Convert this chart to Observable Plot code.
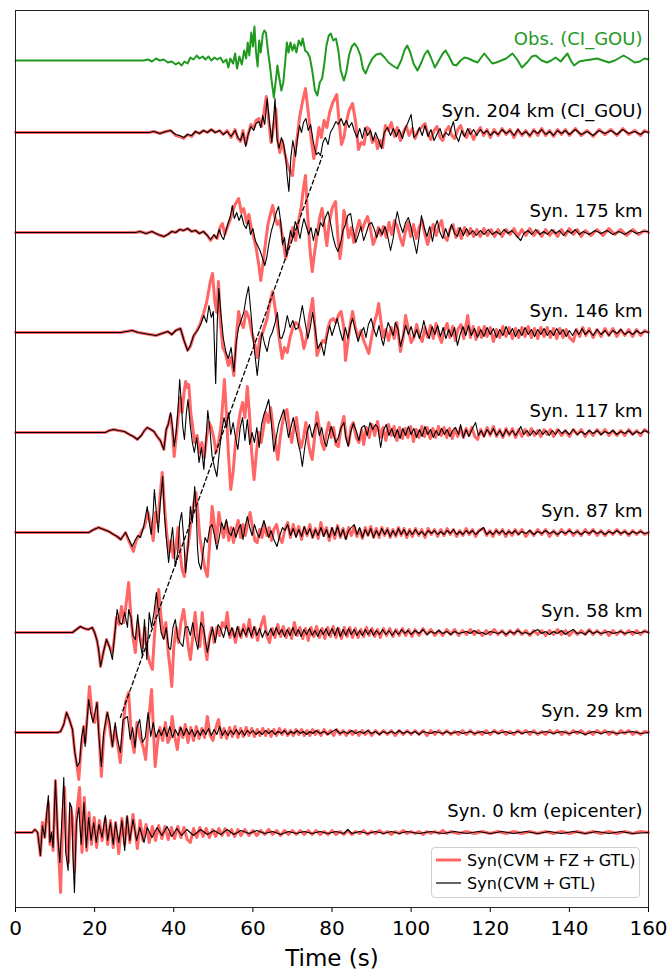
<!DOCTYPE html>
<html><head><meta charset="utf-8">
<script src="https://cdn.jsdelivr.net/npm/d3@7"></script>
<script src="https://cdn.jsdelivr.net/npm/@observablehq/plot@0.6"></script>
<style>
html,body{margin:0;padding:0;background:#fff;}
#chart{position:relative;width:671px;height:975px;font-family:"DejaVu Sans",sans-serif;}
#legend{position:absolute;left:431px;top:847px;width:207px;height:49px;border:1px solid #cfcfcf;border-radius:4px;background:rgba(255,255,255,0.85);font-size:16px;color:#000;}
#legend .row{position:absolute;left:4px;display:flex;align-items:center;white-space:nowrap;}
#legend .sw{width:25px;margin-right:6px;}
</style></head><body><div id="chart"><div id="legend"></div></div>
<script>
// ---- data (time in s, amplitude in units where 100 = trace spacing) ----
const xTicks = [0, 20, 40, 60, 80, 100, 120, 140, 160];
const traceLabels = ["Syn. 0 km (epicenter)", "Syn. 29 km", "Syn. 58 km", "Syn. 87 km", "Syn. 117 km", "Syn. 146 km", "Syn. 175 km", "Syn. 204 km (CI_GOU)"];
const traceOffsets = [0, 1, 2, 3, 4, 5, 6, 7];
const obsLabel = "Obs. (CI_GOU)";
const obsOffset = 7.72;
const dashTime = [26.5, 77.6];
const dashLevel = [1.15, 6.77];
const legendLabels = ["Syn(CVM\u2009+\u2009FZ\u2009+\u2009GTL)", "Syn(CVM\u2009+\u2009GTL)"];

const obs = [[0,0],[32.4,0],[33.5,1],[34.5,-1],[35.5,2],[36.5,0],[37.5,1],[38.5,-2],[39.5,-1],[40.5,-4],[41.2,-2],[42,-5],[42.7,-1],[43.5,-3],[44.2,3],[45,1],[45.8,5],[46.5,2],[47.3,4],[48,1],[48.8,4],[49.5,0],[50.3,3],[51,1],[51.8,3],[52.5,-2],[53.3,1],[53.8,-7],[54.3,2],[55,-3],[55.5,7],[56,-8],[56.6,4],[57.2,-4],[57.8,10],[58.3,2],[58.7,18],[59.1,5],[59.6,28],[60,14],[60.4,34],[60.8,8],[61.2,-6],[61.6,20],[62,8],[62.5,26],[62.9,30],[63.3,28],[63.8,10],[64.3,-5],[64.8,-22],[65.3,-37],[65.8,-20],[66.2,-5],[66.7,-18],[67.2,-30],[67.7,-22],[68.2,0],[68.6,18],[69,8],[69.5,18],[70,10],[70.5,16],[71,8],[71.6,20],[72.2,15],[72.6,22],[73.2,10],[73.8,8],[74.4,3],[75,-10],[75.7,-30],[76.3,-35],[76.9,-22],[77.5,-18],[78,-5],[78.6,15],[79.2,25],[79.7,27],[80.3,20],[81,22],[81.6,10],[82.2,-10],[83,-20],[83.6,-12],[84.3,5],[85,14],[85.7,17],[86.4,13],[87.2,5],[87.8,-8],[88.5,-13],[89.3,-5],[90.2,2],[91.2,6],[92.3,7],[93.3,3],[94.3,-2],[95.3,-5],[96.5,-8],[97.5,0],[98.3,10],[99,15],[99.8,8],[100.6,-3],[101.6,-10],[102.6,-2],[103.4,6],[104.2,10],[105,3],[106,-7],[107,0],[108,7],[108.7,10],[109.6,4],[110.6,-4],[111.4,-5],[112.5,0],[113.5,3],[114.5,2],[115.5,0],[116.8,-2],[117.7,3],[118.5,7],[119.5,2],[120.5,-3],[121.5,-2],[122.8,0],[124,2],[125.6,7],[126.8,1],[128,-7],[129.3,-2],[130.5,4],[131.5,5],[133,0],[134.3,-2],[135.4,0],[136.5,3],[137.8,-1],[139.5,7],[140.5,-1],[141.2,-5],[142.5,-1],[143.8,0],[145.5,1],[147,2],[148.5,0],[150,-2],[151.5,0],[153.7,5],[155,2],[156.5,-2],[157.8,-1],[159,2],[160,1]];

const blk204 = [[0,0],[33.7,0],[35,1],[36.5,-1],[38,1],[39.2,2],[40.5,-2],[41.5,-3],[42.5,-5],[43.5,-2],[44.5,-3],[45.5,1],[46.5,-1],[47.5,2],[48.5,0],[49.5,3],[50.5,0],[51.6,2],[52.5,-2],[53.5,1],[54.5,-4],[55.5,2],[56.2,-5],[56.9,-8],[57.5,0],[58.2,-14],[58.8,-2],[59.5,6],[60.2,2],[60.8,9],[61.5,11],[62,5],[62.5,17],[63,8],[63.6,34],[64.2,10],[64.8,-10],[65.2,12],[65.6,34],[66.1,-6],[66.6,-16],[67.2,-5],[67.8,-12],[68.3,-25],[68.7,-45],[69.1,-59],[69.6,-25],[70.1,-8],[70.8,-24],[71.3,-5],[71.8,7],[72.3,0],[72.8,10],[73.4,14],[74,2],[74.6,8],[75.3,-10],[76,-22],[76.6,-20],[77.1,-23],[77.7,-10],[78.3,-5],[79,-12],[79.6,0],[80.3,5],[81,11],[81.6,8],[82.3,14],[83,7],[83.6,12],[84.3,5],[85,10],[85.6,2],[86.3,-5],[87,4],[87.7,-6],[88.3,5],[89,-3],[89.7,2],[90.4,-8],[91,0],[91.7,-7],[92.5,-16],[93.2,0],[94,5],[94.8,-3],[95.5,4],[96.3,-4],[97,3],[97.8,-6],[98.5,4],[99.2,10],[100,18],[100.7,-5],[101.4,-2],[102.1,5],[102.8,-3],[103.5,7],[104.3,-4],[105,3],[105.8,-8],[106.5,-2],[107.3,4],[108,-5],[108.8,0],[109.5,-3],[110.2,5],[110.7,11],[111.3,-3],[112,-9],[112.8,2],[113.5,-4],[114.3,4],[115,-2],[115.8,3],[116.6,-3],[117.5,3],[118.3,-1],[119.2,2],[120,-3],[121,1],[122,-2],[123,3],[124,-1],[125,2],[126,-3],[127,3],[128,-2],[129,1],[130,-3],[131,2],[132,-1],[133,3],[134,-2],[135,1],[136,-3],[137,2],[138,-1],[139,2],[140,-2],[141.5,3],[143,-2],[144.5,1],[146,-3],[147.5,2],[149,-1],[150.5,2],[152,-2],[153.5,3],[155,-1],[156.5,1],[158,-2],[159,1],[160,0]];
const red204 = [[0,0],[33.7,0],[35,1],[36.5,-1],[38,1],[39.2,2],[40.5,-3],[41.5,-4],[42.5,-6],[43.5,-2],[44.5,-4],[45.5,1],[46.5,-1],[47.5,2],[48.5,0],[49.5,3],[50.5,0],[51.6,2],[52.5,-2],[53.5,2],[54.5,-5],[55.5,3],[56.2,-6],[56.9,-9],[57.5,2],[58.2,-12],[58.8,-2],[59.5,8],[60.2,4],[60.8,12],[61.5,14],[62.2,6],[62.8,20],[63.4,36],[64,12],[64.6,-10],[65.2,5],[65.8,24],[66.3,-8],[66.8,-20],[67.4,-8],[68,-20],[68.6,-30],[69.3,-38],[70,-43],[70.6,-20],[71.2,-5],[71.8,15],[72.5,30],[73.3,44],[74,20],[74.7,-5],[75.4,-26],[76,-15],[76.7,5],[77.3,-5],[78,12],[78.7,5],[79.4,20],[80.2,30],[81.2,38],[81.8,10],[82.4,-12],[83,-5],[83.6,10],[84.3,22],[85.2,29],[86,10],[86.7,-17],[87.4,-10],[88.1,-12],[88.8,5],[89.5,3],[90.2,-10],[91,-5],[91.5,-16],[92.2,-8],[92.8,-15],[93.5,7],[94.3,2],[95,10],[95.8,-4],[96.5,5],[97.3,-8],[98,0],[98.8,6],[99.5,-3],[100.3,4],[101,-6],[101.8,2],[102.6,5],[103.5,9],[104.3,-2],[105,-7],[105.8,2],[106.5,6],[107.3,-5],[108,-8],[108.8,2],[109.5,6],[110.3,-3],[111,-6],[111.8,3],[112.5,7],[113.3,-2],[114,-5],[114.8,3],[115.8,-7],[116.6,0],[117.5,5],[118.3,-3],[119.2,3],[120,-5],[121,3],[122,-3],[123,4],[124,-2],[125,3],[126,-5],[127,3],[128,-3],[129,2],[130,-4],[131,3],[132,-3],[133,4],[134,-3],[135,2],[136,-4],[137,3],[138,-2],[139,3],[140,-3],[141.5,4],[143,-3],[144.5,2],[146,-4],[147.5,3],[149,-2],[150.5,3],[152,-3],[153.5,4],[155,-2],[156.5,2],[158,-3],[159,2],[160,0]];

const blk175 = [[0,0],[30.3,0],[31.5,1],[33,-1],[34.5,1],[36,-2],[37.5,-4],[38.5,-2],[39.5,1],[40.5,0],[41.5,3],[42.5,2],[43.5,4],[44.5,1],[45.5,2],[46.5,-1],[47.5,1],[48.5,-3],[49.3,-7],[50.2,-2],[50.8,-6],[51.5,3],[52.1,-4],[52.6,-7],[53.2,2],[53.8,10],[54.3,16],[54.8,27],[55.3,14],[55.9,20],[56.5,12],[57.1,18],[57.7,8],[58.3,4],[58.9,12],[59.4,-2],[60,4],[60.6,-8],[61.2,-13],[61.8,-18],[62.4,-25],[63,-33],[63.5,-25],[64.1,-10],[64.7,2],[65.3,10],[65.9,20],[66.5,26],[67,12],[67.5,-12],[68,-5],[68.5,-23],[69,-10],[69.5,2],[70.1,-6],[70.7,11],[71.3,5],[71.9,-6],[72.4,5],[72.9,14],[73.5,6],[74.1,-2],[74.7,5],[75.3,-8],[75.9,4],[76.5,-3],[77.1,10],[77.7,6],[78.3,15],[79,21],[79.6,10],[80.3,-5],[80.9,-14],[81.5,-19],[82.2,-10],[82.8,2],[83.4,8],[84,17],[84.7,19],[85.3,4],[86,-10],[86.6,-3],[87.3,6],[88,-8],[88.7,0],[89.3,8],[90,10],[90.7,3],[91.3,-5],[92,4],[92.7,-2],[93.4,6],[94.1,-4],[94.8,-18],[95.5,-5],[96,10],[96.5,21],[97.2,8],[97.9,0],[98.6,10],[99.3,15],[100,5],[100.7,-8],[101.4,-21],[102,-5],[102.6,17],[103.3,5],[104,-4],[104.7,6],[105.4,-9],[106,5],[106.6,12],[107.3,0],[108,-6],[108.7,4],[109.4,-4],[110.2,8],[111,-1],[111.7,-4],[112.4,5],[113.2,-3],[114,4],[114.8,-2],[115.6,2],[116.5,-3],[117.5,2],[118.5,-2],[119.5,3],[120.5,-2],[121.5,1],[122.5,-2],[123.5,3],[124.5,-1],[125.5,2],[126.5,-3],[127.7,-8],[128.5,-1],[129.5,2],[130.5,-2],[131.5,3],[132.5,-2],[133.5,1],[134.5,-2],[135.5,3],[136.5,-1],[137.5,2],[138.5,-3],[139.5,2],[140.5,-1],[141.5,3],[142.5,-2],[143.5,1],[145,-2],[146.5,2],[148,-1],[149.5,2],[151,-2],[152.5,1],[154,-2],[155.5,2],[157,-1],[158.5,1],[160,1]];
const red175 = [[0,0],[30.3,0],[31.5,1],[33,-1],[34.5,1],[36,-2],[37.5,-4],[38.5,-2],[39.5,1],[40.5,0],[41.5,3],[42.5,2],[43.5,4],[44.5,1],[45.5,2],[46.5,-1],[47.5,1],[48.5,-3],[49.3,-8],[50.2,-3],[51,-6],[51.7,5],[52.3,9],[52.9,-2],[53.5,5],[54.2,12],[54.8,20],[55.5,28],[56.4,34],[57.1,20],[57.7,24],[58.4,10],[59,18],[59.6,5],[60.2,-5],[60.8,-15],[61.4,-30],[62,-48],[62.6,-30],[63.2,-10],[63.8,8],[64.4,18],[65,27],[65.6,15],[66.2,8],[66.8,12],[67.5,-5],[68.3,-26],[68.9,-15],[69.5,-5],[70.1,5],[70.8,-8],[71.5,10],[72.2,25],[72.8,45],[73.3,57],[73.8,20],[74.4,-15],[75,-39],[75.6,-20],[76.3,0],[76.9,15],[77.5,24],[78.1,5],[78.7,-13],[79.3,10],[80.1,25],[80.9,31],[81.5,-5],[82,-26],[82.5,-10],[83,22],[83.6,12],[84.2,-5],[84.9,5],[85.5,-10],[86.2,2],[86.9,12],[87.6,2],[88.3,10],[89,16],[89.7,4],[90.4,-12],[91,-6],[91.7,5],[92.4,-3],[93,6],[93.7,-5],[94.4,10],[95.1,-2],[95.8,12],[96.5,6],[97.2,-5],[97.9,-13],[98.5,0],[99.2,10],[99.9,-4],[100.6,8],[101.3,-6],[102,5],[102.8,12],[103.5,-2],[104.2,-12],[104.9,0],[105.6,8],[106.3,-3],[107,6],[107.7,12],[108.4,-4],[109.1,-8],[109.8,3],[110.6,8],[111.3,-5],[112,4],[112.7,-6],[113.5,5],[114.3,-3],[115,4],[115.8,-4],[116.6,3],[117.5,-4],[118.4,4],[119.3,-3],[120.2,3],[121.1,-4],[122,3],[123,-4],[124,3],[125,-2],[126,4],[127,-4],[128,3],[129,-3],[130,4],[131,-3],[132,2],[133,-4],[134,3],[135,-3],[136,2],[137,-4],[138,3],[139,-3],[140,4],[141,-2],[142,3],[143,-4],[144,2],[145.5,-3],[147,3],[148.5,-3],[150,4],[151.5,-2],[153,3],[154.5,-3],[156,3],[157.5,-2],[159,2],[160,0]];

const blk146 = [[0,0],[26.5,0],[28,1],[29.5,2],[31,0],[32.5,-1],[34,-2],[35.5,-3],[37,-1],[38.5,1],[39.5,-2],[40.5,2],[41.7,4],[42.6,-8],[43.5,-18],[44.2,-13],[45,-3],[46,2],[46.8,8],[47.6,17],[48.3,10],[48.9,27],[49.5,15],[50,21],[50.6,-51],[51,10],[51.4,44],[51.9,20],[52.5,-5],[53.2,-20],[53.8,-26],[54.5,-15],[55.2,-39],[55.8,-10],[56.4,5],[57,12],[57.7,20],[58.3,35],[58.9,46],[59.5,20],[60.1,-8],[60.6,-25],[61.1,-43],[61.7,-20],[62.3,0],[63,-12],[63.6,-19],[64.3,-5],[64.9,0],[65.5,8],[66.2,20],[66.8,-5],[67.3,-6],[68,2],[68.7,17],[69.4,5],[70.1,12],[70.8,3],[71.5,5],[72.5,27],[73.2,10],[73.9,-6],[74.5,5],[75.1,20],[75.7,5],[76.4,-16],[77.2,-10],[78,-23],[78.7,-5],[79.4,7],[80,-3],[80.7,6],[81.3,14],[82,2],[82.7,-8],[83.4,5],[84,-6],[84.7,8],[85.2,14],[85.9,2],[86.6,-9],[87.3,0],[88,5],[88.6,-5],[89.2,8],[89.9,14],[90.6,3],[91.2,-4],[91.9,7],[92.5,-6],[93,-13],[93.6,0],[94.2,10],[94.8,4],[95.5,-3],[96,10],[96.7,3],[97.3,-14],[98,-3],[98.6,7],[99.3,-2],[100,6],[100.7,-5],[101.4,3],[102.1,-6],[102.8,4],[103.2,12],[103.9,0],[104.6,-6],[105.3,6],[106,-2],[106.7,7],[107.4,-4],[108.1,5],[108.8,-6],[109.5,3],[110.2,-4],[111,5],[111.7,-13],[112.4,-2],[113.1,6],[113.8,-3],[114.5,7],[115.2,-3],[116,4],[116.8,-5],[117.6,3],[118.4,-4],[119.2,5],[120,-2],[120.8,4],[121.6,-5],[122.4,3],[123.2,-3],[124,6],[124.8,-2],[125.6,4],[126.4,-4],[127.2,3],[128,-3],[128.8,5],[129.6,-2],[130.4,3],[131.2,-4],[132,3],[132.8,-2],[133.6,4],[134.4,-3],[135.2,2],[136,-3],[136.8,4],[137.6,-2],[138.4,3],[139.2,-4],[140,2],[140.8,-3],[141.6,3],[142.4,-2],[143.2,4],[144,-2],[145,2],[146,-3],[147,3],[148,-2],[149,2],[150,-3],[151,2],[152,-1],[153,3],[154,-2],[155,1],[156,-2],[157,2],[158,-1],[159,1],[160,0]];
const red146 = [[0,0],[26.5,0],[28,1],[29.5,2],[31,0],[32.5,-1],[34,-2],[35.5,-3],[37,-1],[38.5,1],[39.5,-2],[40.5,2],[41.7,4],[42.6,-8],[43.5,-18],[44.2,-14],[45,-4],[46,3],[46.8,10],[47.6,20],[48.3,30],[49.2,50],[49.8,59],[50.4,30],[50.9,20],[51.3,51],[51.8,10],[52.4,-15],[53,-20],[53.8,-33],[54.5,-25],[55.2,-43],[55.9,0],[56.4,21],[57,10],[57.6,5],[58.3,21],[59,15],[59.7,0],[60.4,-10],[61.1,-25],[61.8,-5],[62.5,0],[63.6,14],[64.3,30],[65,41],[65.6,25],[66.2,8],[66.8,-10],[67.4,-26],[68,-15],[68.7,-20],[69.4,-5],[70.1,5],[70.8,10],[71.5,8],[72.2,0],[72.9,-16],[73.6,-5],[74.3,15],[75.1,34],[75.6,10],[76.2,-23],[76.9,-15],[77.6,-8],[78.3,-10],[79,5],[79.6,12],[80.3,14],[81,10],[81.7,18],[82.3,21],[83,5],[83.4,-28],[84,-10],[84.6,8],[85.2,21],[85.9,5],[86.6,-5],[87.3,2],[88,-8],[88.7,-15],[89.3,-21],[90,-5],[90.7,10],[91.3,18],[91.8,29],[92.4,10],[93,-5],[93.6,3],[94.3,-8],[95,5],[95.7,-6],[96.4,10],[97.3,-19],[98,-5],[98.6,17],[99.3,3],[100,-10],[100.7,-5],[101.4,8],[102.1,-3],[102.8,-9],[103.5,5],[104.2,-5],[104.9,7],[105.6,-6],[106.3,9],[107,-3],[107.7,-10],[108.4,2],[109.1,9],[109.8,-5],[110.5,6],[111.2,-8],[111.9,4],[112.6,8],[113.3,-6],[114.3,17],[115,-5],[115.7,6],[116.4,-7],[117.1,5],[117.8,-5],[118.5,6],[119.2,-4],[120,5],[120.8,-9],[121.6,3],[122.4,-5],[123.2,6],[124,-4],[124.8,5],[125.6,-6],[126.4,4],[127.2,-5],[128,5],[128.8,-4],[129.6,6],[130.4,-5],[131.2,4],[132,-6],[132.8,5],[133.6,-4],[134.4,5],[135.2,-5],[136,4],[136.8,-6],[137.6,4],[138.4,-5],[139.2,3],[140,-5],[141,-9],[141.8,3],[142.6,-4],[143.4,5],[144.2,-3],[145,4],[146,-5],[147,3],[148,-4],[149,4],[150,-3],[151,4],[152,-4],[153,3],[154,-3],[155,3],[156,-4],[157,3],[158,-3],[159,2],[160,0]];

const blk117 = [[0,0],[22.7,0],[23.7,2],[24.8,3],[26,2],[27.5,1],[28.8,-2],[29.8,-4],[30.8,-7],[31.8,-3],[32.6,2],[33.3,5],[34.2,3],[35,1],[35.8,-4],[36.6,-8],[37.5,-17],[38.1,3],[38.6,8],[39.2,20],[39.7,5],[40.1,-14],[40.6,0],[41.1,25],[41.5,53],[41.9,30],[42.3,5],[42.7,-7],[43.2,20],[43.6,33],[44.1,10],[44.7,-10],[45.2,-20],[45.8,-5],[46.4,-30],[47,-15],[47.6,-37],[48.1,-10],[48.6,22],[49.1,5],[49.7,-24],[50.3,-35],[50.9,-44],[51.5,-20],[52.1,0],[52.7,15],[53.3,5],[53.9,20],[54.4,-2],[55,10],[55.6,-5],[56.2,-17],[56.8,5],[57.4,15],[58,-8],[58.6,13],[59.2,-12],[59.8,0],[60.4,-10],[61,5],[61.6,-15],[62.2,8],[62.8,18],[63.4,25],[64,33],[64.6,12],[65.3,-19],[65.9,-5],[66.5,8],[67.1,15],[67.8,23],[68.4,10],[69,-5],[69.6,5],[70.2,15],[70.8,3],[71.4,-10],[72,-20],[72.5,-34],[73.1,-15],[73.7,0],[74.3,8],[75,-5],[75.6,5],[76.2,10],[76.8,-3],[77.4,5],[78,-8],[78.6,-14],[79.2,-3],[79.8,6],[80.4,-2],[81,-10],[81.6,-5],[82.3,5],[83,10],[83.5,-5],[84.1,-14],[84.7,0],[85.4,9],[86.1,2],[86.8,-8],[87.5,5],[88.2,7],[88.9,-3],[89.6,10],[90.3,3],[91,8],[91.6,5],[92.3,-15],[93,2],[93.7,8],[94.4,-3],[95.1,4],[95.8,-5],[96.5,3],[97.2,-6],[97.9,4],[98.6,-3],[99.3,6],[100,-2],[100.7,4],[101.4,-5],[102.1,3],[102.8,-4],[103.5,6],[104.2,-2],[104.9,3],[105.6,-5],[106.3,2],[107,-3],[107.7,4],[108.4,-2],[109.1,3],[109.8,-4],[110.5,2],[111.2,5],[112,-2],[112.5,8],[113.2,-5],[113.9,3],[114.6,-4],[115.5,4],[116.3,10],[117,-3],[117.7,2],[118.4,-4],[119.2,3],[120,-2],[120.8,4],[121.6,-3],[122.4,2],[123.2,-4],[124,3],[124.8,-2],[125.6,2],[126.4,-3],[127.2,2],[127.7,6],[128.5,-2],[129.3,2],[130.1,-3],[130.9,2],[131.7,-2],[132.5,3],[133.3,-2],[134.1,2],[134.9,-3],[135.7,2],[136.5,-2],[137.3,3],[138.1,-1],[139,2],[140,-2],[141,3],[142,-2],[143,1],[144,-2],[145,2],[146,-1],[147,2],[148,-2],[149,1],[150,-1],[151,2],[152,-2],[153,1],[154,-1],[155,2],[156,-2],[157,1],[158,-1],[159,2],[160,0]];
const red117 = [[0,0],[22.7,0],[23.7,2],[24.8,3],[26,2],[27.5,1],[28.8,-2],[29.8,-4],[30.8,-7],[31.8,-3],[32.6,2],[33.3,5],[34.2,3],[35,1],[35.8,-4],[36.6,-8],[37.5,-17],[38.1,3],[38.6,8],[39.2,18],[39.7,0],[40.1,-24],[40.6,-5],[41.1,15],[41.6,35],[42.1,20],[42.6,40],[43,51],[43.4,45],[43.8,48],[44.3,20],[44.8,5],[45.3,-10],[45.9,-3],[46.5,-20],[47.1,-10],[47.7,-25],[48.3,-5],[48.9,10],[49.5,5],[50.1,-5],[50.7,-20],[51.3,-10],[51.9,5],[52.4,30],[52.8,53],[53.3,20],[53.8,-20],[54.4,-57],[55,-40],[55.6,-10],[56.2,5],[56.8,20],[57.4,30],[58,15],[58.6,46],[59.2,15],[59.7,-20],[60.3,-47],[60.9,-20],[61.5,0],[62.1,-10],[62.7,5],[63.3,20],[63.9,10],[64.5,25],[65.1,5],[65.7,-10],[66.3,-27],[66.9,-5],[67.5,10],[68.1,20],[68.6,23],[69.2,5],[69.8,-10],[70.4,5],[71,15],[71.6,-5],[72.2,-15],[72.8,-5],[73.4,10],[74,-10],[74.5,-20],[75,-27],[75.6,-5],[76.2,20],[76.8,5],[77.4,-10],[78,-17],[78.6,0],[79.2,10],[79.8,-5],[80.4,5],[81,-12],[81.6,-14],[82.3,5],[83,16],[83.6,-5],[84.2,-12],[84.8,5],[85.4,10],[86.1,-5],[86.8,-10],[87.5,3],[88,-12],[88.7,5],[89.4,-5],[90.1,8],[90.8,-3],[91.5,11],[92.2,-5],[92.9,5],[93.6,-8],[94.3,8],[95,-3],[95.7,6],[96.4,-8],[97.1,5],[97.8,-6],[98.5,4],[99.2,-5],[99.9,6],[100.6,-9],[101.3,3],[102,-5],[102.7,6],[103.4,-4],[104.1,5],[104.8,-6],[105.5,4],[106.2,-5],[106.9,6],[107.6,-3],[108.3,5],[109,-5],[109.7,4],[110.4,-6],[111.1,4],[111.8,-4],[112.5,5],[113.2,-5],[113.9,4],[114.6,-3],[115.3,5],[116.1,-4],[116.8,-7],[117.6,3],[118.4,-4],[119.2,5],[120,-3],[120.8,6],[121.6,-4],[122.4,3],[123.2,-5],[124,4],[124.8,-3],[125.6,4],[126.4,-5],[127.2,3],[128,-4],[128.8,3],[129.6,-3],[130.4,4],[131.2,-3],[132,2],[132.8,-4],[133.6,3],[134.4,-2],[135.2,3],[136,-4],[137,3],[138,-3],[139,2],[140,-4],[141,3],[142,-2],[143,3],[144,-4],[145,2],[146,-3],[147,3],[148,-2],[149,3],[150,-3],[151,2],[152,-3],[153,2],[154,-3],[155,3],[156,-2],[157,2],[158,-3],[159,3],[160,0]];

const blk87 = [[0,0],[18.5,0],[19.8,3],[21,5],[22.3,3],[23.6,1],[24.8,-2],[25.7,-4],[26.6,-7],[27.8,0],[28.8,-8],[29.5,-14],[30.2,-8],[30.9,-3],[31.6,-5],[32.4,6],[33.3,26],[33.8,10],[34.3,-2],[34.8,20],[35.1,43],[35.6,20],[36.1,0],[36.6,30],[37.2,56],[37.6,20],[38.1,-5],[38.7,-30],[39.2,-10],[39.7,5],[40.4,-34],[41,-20],[41.5,10],[42,20],[42.5,-5],[43,-40],[43.6,-15],[44.2,26],[44.7,10],[45.3,46],[45.7,20],[46,-15],[46.3,-30],[46.9,-37],[47.4,-20],[47.9,-5],[48.5,-10],[49.1,5],[49.7,8],[50.3,-3],[50.9,-17],[51.5,-5],[52.1,10],[52.7,3],[53.3,13],[53.9,0],[54.5,-3],[55.1,5],[55.7,-5],[56.3,3],[56.9,8],[57.5,-7],[58,5],[58.6,16],[59.2,5],[59.8,-3],[60.4,8],[61,0],[61.6,-5],[62.2,4],[62.8,12],[63.4,3],[64,-5],[64.6,2],[65.3,-7],[66.1,-14],[66.8,-3],[67.5,5],[68.1,2],[68.8,8],[69.5,-3],[70.2,4],[70.9,-5],[71.6,3],[72.3,-4],[73,6],[73.7,-2],[74.4,4],[75.1,-5],[75.8,3],[76.5,-3],[77.2,5],[77.9,-4],[78.6,3],[79.3,-5],[80,5],[80.7,-3],[81.4,6],[82.1,-4],[82.8,3],[83.5,-7],[84.2,2],[84.9,5],[85.6,8],[86.3,-2],[87,5],[87.7,-5],[88.4,3],[89.1,-3],[89.8,4],[90.5,-5],[91.2,2],[91.9,-3],[92.6,4],[93.3,-2],[94,3],[94.7,-4],[95.4,2],[96.1,-3],[96.8,4],[97.5,-2],[98.2,3],[98.9,-3],[99.6,2],[100.3,-2],[101.1,3],[101.9,-2],[102.7,1],[103.5,-3],[104.3,2],[105.1,-1],[105.9,2],[106.7,-2],[107.5,1],[108.3,-2],[109.1,2],[109.9,-1],[110.7,3],[111.5,-2],[112.3,1],[113.1,-2],[113.9,2],[114.7,-1],[115.5,2],[116.3,-2],[117.1,1],[118.3,5],[119.1,-2],[119.9,1],[120.7,-2],[121.5,2],[122.3,-1],[123.1,2],[123.9,-2],[124.7,1],[125.5,-1],[126.3,2],[127.1,-2],[128,1],[129,-1],[130,2],[131,-2],[132,1],[133,-1],[134,2],[135,-1],[136,1],[137,-2],[138,1],[139,-1],[140,2],[141,-1],[142,1],[143,-2],[144,1],[145,-1],[146,2],[147,-1],[148,1],[149,-2],[150,1],[151,-1],[152,2],[153,-1],[154,1],[155,-2],[156,1],[157,-1],[158,1],[159,-1],[160,0]];
const red87 = [[0,0],[18.5,0],[19.8,3],[21,5],[22.3,3],[23.6,1],[24.8,-2],[25.7,-4],[26.6,-7],[27.8,0],[28.8,-10],[29.8,-19],[30.5,-8],[31.2,-4],[32,2],[32.6,6],[33.5,20],[34.1,10],[34.8,-8],[35.4,20],[36,10],[36.5,35],[37.1,60],[37.6,30],[38.2,0],[38.8,-20],[39.3,-8],[39.9,-25],[40.5,-15],[41.1,5],[41.6,-20],[42.1,-37],[42.7,-44],[43.3,-20],[43.9,-5],[44.5,15],[45,28],[45.6,40],[46.1,20],[46.6,-5],[47.2,-20],[47.8,-35],[48.5,-44],[49.1,-10],[49.7,26],[50.2,10],[50.8,-10],[51.4,20],[52,5],[52.6,-5],[53.3,10],[53.9,-8],[54.5,5],[55.1,-10],[55.7,3],[56.3,12],[56.9,-5],[57.5,8],[58.1,-3],[58.7,10],[59.3,20],[59.9,5],[60.5,-8],[61.1,-10],[61.7,3],[62.3,-5],[62.9,8],[63.5,-3],[64.1,5],[64.7,-8],[65.3,3],[66,8],[66.7,-5],[67.4,-10],[68.1,3],[68.8,10],[69.5,-5],[70.2,8],[70.9,-3],[71.6,6],[72.3,-7],[73,5],[73.7,-3],[74.4,8],[75.1,-5],[75.8,4],[76.5,-6],[77.2,10],[77.9,-3],[78.6,5],[79.3,-8],[80,4],[80.7,-6],[81.4,7],[82.1,-5],[82.8,4],[83.5,-6],[84.2,5],[84.9,-3],[85.6,6],[86.3,-4],[87,3],[87.7,-6],[88.4,5],[89.1,-3],[89.8,6],[90.5,-5],[91.2,4],[91.9,-5],[92.6,5],[93.3,-3],[94,4],[94.7,-5],[95.4,3],[96.1,-4],[96.8,5],[97.5,-3],[98.2,4],[98.9,-5],[99.6,3],[100.3,-4],[101.1,4],[101.9,-3],[102.7,3],[103.5,-5],[104.3,4],[105.1,-2],[105.9,3],[106.7,-4],[107.5,3],[108.3,-3],[109.1,4],[109.9,-2],[110.7,3],[111.5,-4],[112.3,2],[113.1,-3],[113.9,4],[114.7,-2],[115.5,3],[116.3,-4],[117.1,2],[118.3,4],[119.1,-3],[119.9,2],[120.7,-4],[121.5,3],[122.3,-2],[123.1,3],[123.9,-4],[124.7,2],[125.5,-3],[126.3,3],[127.1,-2],[128,3],[129,-4],[130,2],[131,-3],[132,3],[133,-2],[134,3],[135,-4],[136,2],[137,-3],[138,3],[139,-2],[140,3],[141,-3],[142,2],[143,-3],[144,3],[145,-2],[146,3],[147,-3],[148,2],[149,-3],[150,2],[151,-2],[152,3],[153,-2],[154,2],[155,-3],[156,2],[157,-2],[158,2],[159,-2],[160,0]];

const blk58 = [[0,0],[14.4,0],[15.4,3],[16.4,6],[17.4,4],[18.4,3],[19.4,5],[20,0],[20.6,-8],[21,-17],[21.5,-34],[22.2,-20],[23,-7],[23.7,-14],[24.5,-27],[25,-5],[25.7,23],[26.3,10],[26.9,8],[27.6,20],[28.3,5],[28.6,23],[29.2,15],[29.7,-3],[30.3,-7],[30.9,18],[31.5,-10],[32.1,-24],[32.6,13],[33.2,-27],[33.8,20],[34.4,5],[35,20],[35.6,40],[36.2,20],[36.8,0],[37.5,-7],[38.1,5],[38.7,-15],[39.2,-17],[39.8,5],[40.4,13],[41,-5],[41.6,-10],[42.3,-14],[42.9,5],[43.5,6],[44.2,-3],[44.8,10],[45.4,-5],[46.1,-17],[46.8,10],[47.5,5],[48.5,-20],[49.2,-5],[49.8,5],[50.5,-10],[51.2,8],[51.9,3],[52.6,-5],[53.3,7],[54,-3],[54.7,5],[55.4,-5],[56.1,6],[56.8,-4],[57.5,4],[58.2,-3],[58.9,5],[59.6,-4],[60.3,6],[61,-3],[61.7,4],[62.4,-5],[63.1,2],[63.8,-3],[64.5,4],[65.2,-3],[65.9,5],[66.6,-2],[67.3,3],[68,-4],[68.7,3],[69.4,-3],[70.1,5],[70.8,-3],[71.5,3],[72.2,-4],[72.9,3],[73.6,-2],[74.3,4],[75,-3],[75.7,2],[76.4,-4],[77.1,3],[77.8,-2],[78.5,4],[79.2,-3],[80,4],[80.7,-3],[81.4,5],[82.1,-4],[82.8,3],[83.5,-3],[84.2,4],[84.9,-2],[85.6,3],[86.3,-3],[87,2],[87.7,-3],[88.4,3],[89.1,-2],[89.8,3],[90.5,-3],[91.2,2],[92,-2],[92.8,3],[93.6,-2],[94.4,2],[95.2,-3],[96,2],[96.8,-2],[97.6,3],[98.4,-1],[99.2,2],[100,-2],[101,2],[102,-1],[103,3],[104,-2],[105,1],[106,-1],[107,2],[108,-1],[109,1],[110,-2],[111,1],[112,-1],[113,0],[114,1],[115,-1],[116,2],[117,-1],[118,0],[119,-2],[120,1],[121,0],[122,-1],[123,1],[124,-2],[125,1],[126,-1],[127,2],[128,-1],[129,0],[130,-2],[131,1],[132,3],[133,-1],[134,1],[135,-2],[136,1],[137,-1],[138,2],[139,-2],[140,1],[141,3],[142,-1],[143,0],[144,-2],[145,2],[146,-1],[147,1],[148,-1],[149,0],[150,1],[151,-1],[152,0],[153,1],[154,-1],[155,0],[156,1],[157,-1],[158,0],[159,1],[160,0]];
const red58 = [[0,0],[14.4,0],[15.4,3],[16.4,6],[17.4,4],[18.4,3],[19.4,5],[20,0],[20.6,-8],[21,-17],[21.5,-34],[22.2,-20],[23,-7],[23.7,-14],[24.5,-20],[25,-5],[25.5,15],[26.2,8],[26.8,26],[27.4,10],[28,30],[28.6,50],[29.1,20],[29.7,-5],[30.3,-20],[30.9,10],[31.5,-5],[32.1,-15],[32.7,5],[33.3,-20],[33.9,-30],[34.6,-37],[35.1,-5],[35.7,30],[36.2,43],[36.8,15],[37.4,-5],[38,10],[38.6,-20],[39.2,-40],[39.5,-54],[40,-15],[40.6,5],[41.2,-10],[41.8,10],[42.5,23],[43.1,5],[43.7,-15],[44.2,-27],[44.8,-5],[45.4,20],[46,-5],[46.6,-14],[47.2,20],[47.8,-10],[48.4,-27],[49,-5],[49.6,5],[50.2,-10],[50.9,5],[51.6,-3],[52.3,10],[53,5],[53.5,20],[54.2,-5],[54.9,3],[55.6,-10],[56.3,5],[57,-5],[57.7,8],[58.4,-4],[59.1,13],[59.8,-5],[60.5,5],[61.2,-8],[61.9,5],[62.8,16],[63.5,-3],[64.2,-10],[64.9,4],[65.6,-5],[66.3,8],[67,-4],[67.7,6],[68.4,-5],[69.1,4],[69.8,-6],[70.5,10],[71.2,-3],[71.9,5],[72.6,-6],[73.3,4],[74,-8],[74.7,5],[75.4,-4],[76.1,6],[76.8,-5],[77.5,4],[78.2,-6],[78.9,5],[79.6,-4],[80.3,6],[81,-5],[81.7,4],[82.4,-6],[83.1,5],[83.8,-4],[84.5,5],[85.2,-5],[85.9,4],[86.6,-5],[87.3,3],[88,-4],[88.7,5],[89.4,-3],[90.1,4],[90.8,-4],[91.5,3],[92.2,-5],[93,4],[93.8,-3],[94.6,4],[95.4,-4],[96.2,3],[97,-3],[97.8,4],[98.6,-3],[99.4,3],[100.2,-4],[101,3],[102,-3],[103,4],[104,-2],[105,3],[106,-3],[107,2],[108,-3],[109,3],[110,-2],[111,3],[112,-3],[113,2],[114,-2],[115,3],[116,-2],[117,2],[118,-3],[119,2],[120,-2],[121,3],[122,-2],[123,2],[124,-3],[125,2],[126,-2],[127,3],[128,-2],[129,2],[130,-3],[131,2],[132,-2],[133,2],[134,-3],[135,2],[136,-2],[137,3],[138,-2],[139,2],[140,-3],[141,2],[142,-2],[143,2],[144,-2],[145,3],[146,-2],[147,2],[148,-2],[149,2],[150,-3],[151,2],[152,-2],[153,2],[154,-2],[155,2],[156,-2],[157,2],[158,-2],[159,2],[160,0]];

const blk29 = [[0,0],[10.6,0],[11.4,1],[12.2,8],[12.9,20],[13.6,13],[14.4,3],[15,-20],[15.6,-34],[16.2,-30],[16.7,-5],[17.2,6],[17.6,-14],[18.5,33],[19,20],[19.6,10],[20.6,30],[21,0],[21.7,-34],[22.3,0],[23.2,20],[23.8,10],[24.5,-14],[25.2,10],[25.6,-4],[26.5,-20],[27.2,13],[28.3,16],[29,-7],[29.6,5],[30.2,-15],[30.7,5],[31.4,13],[32.1,-10],[32.8,-5],[33.5,20],[34.2,-4],[34.8,10],[35.5,-5],[36.2,3],[36.9,-3],[37.6,5],[38.3,-4],[39,6],[39.7,-5],[40.4,3],[41.1,-3],[41.8,5],[42.5,-3],[43.2,4],[43.9,-2],[44.6,3],[45.3,-4],[46,2],[46.7,-3],[47.4,3],[48.1,-2],[48.8,4],[49.5,-3],[50.2,3],[50.9,-2],[51.6,6],[52.3,-3],[53,2],[53.7,-3],[54.4,2],[55.1,-2],[55.8,3],[56.5,-2],[57.2,2],[57.9,-3],[58.6,2],[59.3,-1],[60,2],[60.8,-2],[61.6,1],[62.4,-2],[63.2,2],[64,-1],[64.8,2],[65.6,-2],[66.4,1],[67.2,-1],[68,2],[68.8,-2],[69.6,1],[70.4,-1],[71.2,2],[72,-1],[72.8,1],[73.6,-2],[74.4,1],[75.2,-1],[76,2],[77,-1],[78,1],[79,-2],[80,1],[81,3],[82,-1],[83,1],[84,-1],[85,2],[86,-1],[87,1],[88,-1],[89,2],[90,-1],[91,1],[92,-2],[93,1],[94,-1],[95,1],[96,-1],[97,2],[98,-1],[99,1],[100,-1],[101,1],[102,-2],[103,1],[104,0],[105,-1],[106,1],[107,0],[108,-1],[109,1],[110,-1],[111,0],[112,1],[113,-1],[114,0],[115,1],[116,-1],[117,0],[118,1],[119,-1],[120,0],[121,1],[122,-1],[123,0],[124,1],[125,-1],[126,0],[127,1],[128,-1],[129,0],[130,1],[132,-1],[134,1],[136,-1],[138,1],[140,-1],[142,1],[144,-2],[146,1],[148,-1],[150,1],[152,-1],[154,0],[156,1],[158,-1],[160,0]];
const red29 = [[0,0],[10.6,0],[11.4,1],[12.2,8],[12.9,20],[13.6,13],[14.4,3],[15,-20],[15.6,-35],[16,-47],[16.5,-20],[17.2,6],[17.6,-10],[18.2,20],[18.7,46],[19.3,20],[20,10],[20.6,30],[21.1,0],[21.7,-44],[22.3,-5],[23.2,20],[23.8,5],[24.5,-14],[25.2,5],[26.5,-30],[27.2,5],[27.8,30],[28.6,40],[29.3,-5],[30,-20],[30.7,10],[31.5,-5],[32.3,-15],[32.9,-27],[33.6,10],[34.4,43],[34.9,0],[35.3,-34],[35.9,-10],[36.5,5],[37.2,-8],[37.9,10],[38.5,-10],[39.1,-5],[39.6,16],[40.3,-5],[40.9,-17],[41.6,5],[42.3,-5],[42.9,8],[43.6,-10],[44.3,5],[45,-8],[45.7,6],[46.4,-6],[47.1,4],[47.8,-5],[48.5,16],[49.2,-3],[49.9,-8],[50.6,4],[51.3,13],[52,-5],[52.7,4],[53.4,-6],[54.1,5],[54.8,-4],[55.5,6],[56.2,-5],[56.9,4],[57.6,-4],[58.3,5],[59,-3],[59.7,4],[60.4,-4],[61.1,3],[61.8,-3],[62.5,4],[63.2,-3],[63.9,3],[64.6,-4],[65.3,3],[66,-3],[66.7,4],[67.4,-2],[68.1,3],[68.8,-3],[69.5,2],[70.2,-3],[70.9,3],[71.6,-2],[72.3,3],[73,-3],[73.7,2],[74.4,-3],[75.1,3],[75.8,-2],[76.5,2],[77.2,-3],[78,3],[78.8,-2],[79.6,2],[80.4,-3],[81.2,3],[82,-2],[82.8,2],[83.6,-3],[84.4,2],[85.2,-2],[86,2],[86.8,-3],[87.6,2],[88.4,-2],[89.2,2],[90,-3],[91,2],[92,-2],[93,2],[94,-2],[95,2],[96,-3],[97,2],[98,-2],[99,2],[100,-2],[101,2],[102,-2],[103,2],[104,-3],[105,2],[106,-2],[107,2],[108,-2],[109,2],[110,-2],[111,1],[112,-2],[113,2],[114,-2],[115,2],[116,-2],[117,1],[118,-2],[119,2],[120,-2],[121,2],[122,-1],[123,2],[124,-2],[125,1],[126,-2],[127,2],[128,-1],[129,2],[130,-2],[131,2],[132,-2],[133,1],[134,-2],[135,2],[136,-1],[137,2],[138,-2],[139,1],[140,-2],[141,2],[142,-1],[143,2],[144,-2],[145,1],[146,-2],[147,2],[148,-1],[149,2],[150,-2],[151,1],[152,-2],[153,2],[154,-1],[155,2],[156,-2],[157,1],[158,-2],[159,1],[160,0]];

const blk0 = [[0,0],[4.2,0],[4.9,3],[5.6,0],[6.3,-23],[6.8,7],[7.4,-5],[7.8,15],[8.3,37],[8.7,-10],[9.1,0],[9.5,-15],[10.1,52],[10.7,-5],[11.2,-30],[11.7,10],[12.2,55],[12.7,-20],[13.3,-38],[13.7,30],[14.2,25],[14.5,-20],[14.9,-60],[15.4,10],[16,25],[16.6,-12],[17.3,30],[17.9,-15],[18.5,15],[19.1,-8],[19.8,10],[20.4,-10],[21.1,8],[21.9,-5],[22.7,17],[23.3,-8],[24,10],[24.7,-12],[25.3,10],[26.1,-10],[26.9,12],[27.6,-18],[28.2,17],[28.9,-8],[29.7,13],[30.6,-8],[31.4,5],[32.5,-10],[33.3,5],[34.5,-5],[35.8,5],[37,-3],[38.3,6],[39.5,-4],[40.8,4],[42,-3],[43.3,3],[45,-3],[46.8,3],[48.5,-2],[50.2,2],[51.9,-2],[53.5,3],[55.2,-2],[57,2],[59,-1],[61,2],[63,-1],[65,1],[67,-2],[69,1],[71,-1],[73,1],[75,-1],[77,1],[79,-1],[81,1],[83,-1],[84,3],[85,-1],[87,1],[89,-1],[91,1],[93,-1],[95,1],[97,-1],[99,1],[102,-1],[105,1],[108,-1],[111,1],[114,-1],[117,1],[120,-1],[123,1],[126,-1],[129,1],[132,-1],[135,1],[138,-1],[141,1],[144,-1],[147,1],[150,-1],[153,1],[156,-1],[160,0]];
const red0 = [[0,0],[4.2,0],[4.9,3],[5.6,0],[6.3,-23],[6.8,10],[7.4,-5],[7.8,15],[8.3,30],[8.7,-12],[9.1,0],[9.5,-18],[10.1,52],[10.7,-5],[11.4,-60],[11.9,10],[12.4,45],[12.9,-15],[13.4,-30],[13.9,25],[14.4,15],[14.9,-40],[15.5,20],[16.2,45],[16.8,-20],[17.4,35],[18,-18],[18.6,20],[19.2,-12],[19.9,15],[20.5,-15],[21.2,12],[21.9,-8],[22.7,14],[23.3,-12],[24,12],[24.7,-15],[25.3,10],[26.1,-21],[26.9,14],[27.6,-12],[28.2,15],[28.9,-10],[29.7,18],[30.8,-16],[31.5,12],[32.2,-8],[33,8],[33.8,-10],[34.6,6],[35.4,-8],[36.2,7],[37,-6],[37.8,6],[38.6,-7],[39.4,5],[40.2,-6],[41,6],[41.8,-5],[42.6,5],[43.4,-7],[44.2,-10],[45,4],[45.8,-5],[46.6,5],[47.4,-4],[48.2,4],[49,-5],[49.8,3],[50.6,-4],[51.4,4],[52.2,-3],[53,4],[53.8,-3],[54.6,3],[55.4,-4],[56.2,3],[57,-3],[58,3],[59,-3],[60,2],[61,-3],[62,2],[63,-2],[64,3],[65,-2],[66,2],[67,-3],[68,2],[69,-2],[70,2],[71,-2],[72,2],[73,-2],[74,2],[75,-2],[76,2],[77,-2],[78,1],[79,-2],[80,2],[81,-2],[82,1],[83,-2],[84,2],[85,-2],[86,1],[87,-1],[88,2],[89,-2],[90,1],[91,-1],[92,2],[93,-1],[94,1],[95,-2],[96,1],[97,-1],[98,2],[99,-1],[100,1],[101,-1],[102,1],[103,-2],[104,1],[105,-1],[106,1],[107,-1],[108,2],[109,-1],[110,1],[112,-1],[114,1],[116,-1],[118,1],[120,-1],[122,1],[124,-1],[126,1],[128,-1],[130,1],[132,-1],[134,1],[136,-1],[138,1],[140,-1],[142,1],[144,-1],[146,1],[148,-1],[150,1],[152,-1],[154,1],[156,-1],[158,1],[160,0]];

// ---- build ----
const ampUnit = 100;
const synRed = [red0, red29, red58, red87, red117, red146, red175, red204];
const synBlk = [blk0, blk29, blk58, blk87, blk117, blk146, blk175, blk204];
const toRows = (arr, off, key) => arr.map(([t, a]) => ({t, y: off + a / ampUnit, key}));
const redRows = synRed.flatMap((arr, i) => toRows(arr, traceOffsets[i], "r" + i));
const blkRows = synBlk.flatMap((arr, i) => toRows(arr, traceOffsets[i], "b" + i));
const obsRows = toRows(obs, obsOffset, "obs");
const dashRows = dashTime.map((t, i) => ({t, y: dashLevel[i]}));
const labelRows = traceLabels.map((s, i) => ({text: s, y: traceOffsets[i], color: "#000"}))
  .concat([{text: obsLabel, y: obsOffset, color: "#1f9a1f"}]);

const RED = "#ff6666", GREEN = "#1f9a1f";

const plot = Plot.plot({
  width: 671, height: 975,
  marginLeft: 15, marginRight: 23, marginTop: 10, marginBottom: 68,
  x: {domain: [0, 160]},
  y: {domain: [-0.75, 8.22], axis: null},
  style: {fontFamily: "DejaVu Sans", background: "#fff", color: "#000", overflow: "visible"},
  marks: [
    Plot.line(redRows, {x: "t", y: "y", z: "key", stroke: RED, strokeWidth: 3, strokeLinejoin: "round"}),
    Plot.line(blkRows, {x: "t", y: "y", z: "key", stroke: "#000", strokeWidth: 1.1, strokeLinejoin: "round"}),
    Plot.line(obsRows, {x: "t", y: "y", stroke: GREEN, strokeWidth: 2, strokeLinejoin: "round"}),
    Plot.line(dashRows, {x: "t", y: "y", stroke: "#000", strokeWidth: 1.3, strokeDasharray: "4,3"}),
    Plot.text(labelRows, {x: () => 160, y: d => d.y + 0.21, text: "text", fill: "color", textAnchor: "end", dx: -6, fontSize: 18}),
    Plot.axisX({ticks: xTicks, tickSize: 5, tickPadding: 8, fontSize: 20, label: null, tickFormat: d => String(d)}),
    Plot.text(["Time (s)"], {frameAnchor: "bottom", dy: 58, fontSize: 23, text: d => d}),
    Plot.frame({stroke: "#222", strokeWidth: 1})
  ]
});
document.getElementById("chart").prepend(plot);

// legend
const lg = document.getElementById("legend");
const sw = [{c: RED, w: 3}, {c: "#000", w: 1.2}];
legendLabels.forEach((s, i) => {
  const row = document.createElement("div");
  row.className = "row";
  row.style.top = (i === 0 ? 2 : 25) + "px";
  row.innerHTML = `<svg class="sw" width="25" height="20"><line x1="0" x2="25" y1="10" y2="10" stroke="${sw[i].c}" stroke-width="${sw[i].w}"/></svg><span>${s}</span>`;
  lg.appendChild(row);
});
</script>
</body></html>
